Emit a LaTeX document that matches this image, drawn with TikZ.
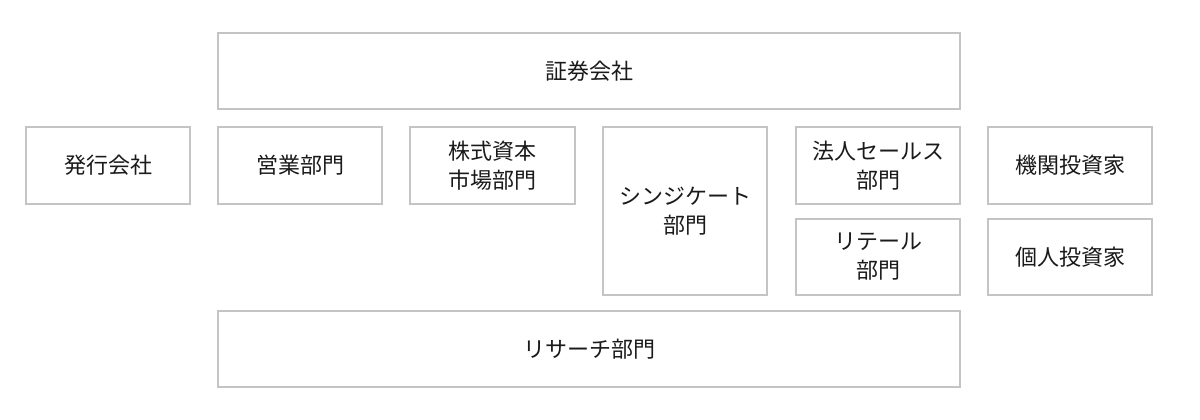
\documentclass[tikz,border=0pt]{standalone}
\usepackage{fontspec}
\setmainfont{Noto Sans CJK JP}
\definecolor{boxline}{HTML}{C4C4C4}
\definecolor{txt}{HTML}{1A1A1A}
\begin{document}
\begin{tikzpicture}[x=1pt,y=1pt,
  box/.style={draw=boxline,line width=1.3pt,fill=white,inner sep=0pt,
    text=txt,font=\fontsize{22}{29}\selectfont,align=center},
]
\useasboundingbox (0,0) rectangle (1200,420);
% box helper: name, centre x, centre y (image coords), width, height, text
\newcommand{\mybox}[6]{%
  \node[box,minimum width=#4pt,minimum height=#5pt] (#1) at (#2,{420-#3}) {#6};}
\mybox{shoken}{589}{71}{742}{76}{証券会社}
\mybox{hakko}{108}{165.5}{164}{77}{発行会社}
\mybox{eigyo}{300}{165.5}{164}{77}{営業部門}
\mybox{ecm}{492.5}{165.5}{165}{77}{株式資本\\市場部門}
\mybox{syn}{685}{211}{164}{168}{シンジケート\\部門}
\mybox{hojin}{878}{165.5}{164}{77}{法人セールス\\部門}
\mybox{kikan}{1070}{165.5}{164}{77}{機関投資家}
\mybox{retail}{878}{257}{164}{76}{リテール\\部門}
\mybox{kojin}{1070}{257}{164}{76}{個人投資家}
\mybox{research}{589}{349}{742}{76}{リサーチ部門}
\end{tikzpicture}
\end{document}
